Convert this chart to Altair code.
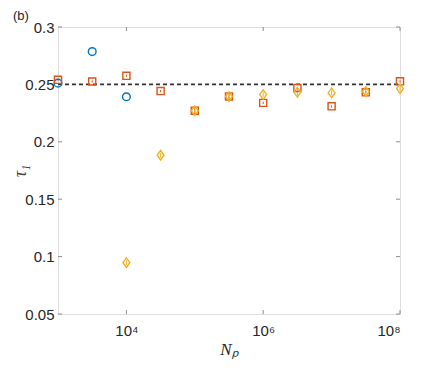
import altair as alt
import pandas as pd

# ---- data ----
circle_np = [1e3, 10**3.5, 1e4]
circle_tau = [0.2511, 0.2786, 0.2392]

square_np = [1e3, 10**3.5, 1e4, 10**4.5, 1e5, 10**5.5, 1e6, 10**6.5, 1e7, 10**7.5, 1e8]
square_tau = [0.2540, 0.2525, 0.2575, 0.2442, 0.2271, 0.2395, 0.2339, 0.2469, 0.2309, 0.2431, 0.2527]
square_err = [0.001, 0.001, 0.001, 0.001, 0.003, 0.003, 0.001, 0.001, 0.001, 0.001, 0.001]

diamond_np = [1e4, 10**4.5, 1e5, 10**5.5, 1e6, 10**6.5, 1e7, 10**7.5, 1e8]
diamond_tau = [0.0947, 0.1883, 0.2271, 0.2395, 0.2411, 0.2431, 0.2426, 0.2438, 0.2463]
diamond_err = [0.002, 0.002, 0.004, 0.004, 0.002, 0.003, 0.002, 0.003, 0.002]

ref_value = [0.25]
x_domain = [1e3, 1e8]
y_domain = [0.05, 0.3]
x_tick_values = [1e4, 1e6, 1e8]
x_tick_labels = ["10⁴", "10⁶", "10⁸"]
y_tick_values = [0.05, 0.1, 0.15, 0.2, 0.25, 0.3]
y_tick_labels = ["0.05", "0.1", "0.15", "0.2", "0.25", "0.3"]
panel_label = ["(b)"]

W, H = 342, 287

circles = pd.DataFrame({"Np": circle_np, "tau": circle_tau})
squares = pd.DataFrame({"Np": square_np, "tau": square_tau,
                        "lo": [t - e for t, e in zip(square_tau, square_err)],
                        "hi": [t + e for t, e in zip(square_tau, square_err)]})
diamonds = pd.DataFrame({"Np": diamond_np, "tau": diamond_tau,
                         "lo": [t - e for t, e in zip(diamond_tau, diamond_err)],
                         "hi": [t + e for t, e in zip(diamond_tau, diamond_err)]})

x_label_expr = " : ".join(
    [f"datum.value == {v} ? '{l}'" for v, l in zip(x_tick_values, x_tick_labels)] + ["''"]
)
y_label_expr = " : ".join(
    [f"abs(datum.value - {v}) < 1e-9 ? '{l}'" for v, l in zip(y_tick_values, y_tick_labels)] + ["''"]
)

xscale = alt.Scale(type="log", domain=x_domain, nice=False)
yscale = alt.Scale(domain=y_domain, nice=False, zero=False)

X = alt.X("Np:Q", scale=xscale,
          axis=alt.Axis(values=x_tick_values, labelExpr=x_label_expr, title="Nₚ",
                        grid=False, domain=False, ticks=False, labelPadding=9,
                        labelFontSize=15, labelColor="#262626", labelFont="Liberation Sans",
                        titleFont="Liberation Serif", titleFontStyle="italic",
                        titleFontWeight="normal", titleFontSize=17, titleColor="#262626",
                        titlePadding=3))
Y = alt.Y("tau:Q", scale=yscale,
          axis=alt.Axis(values=y_tick_values, labelExpr=y_label_expr, title="τ₁",
                        grid=False, domain=False, ticks=False, labelPadding=4,
                        labelFontSize=15, labelColor="#262626", labelFont="Liberation Sans",
                        titleFont="Liberation Serif", titleFontStyle="italic",
                        titleFontWeight="normal", titleFontSize=18, titleColor="#404040",
                        titleX=-38, titleY=H / 2, titleAlign="center",
                        titleBaseline="middle", titleAngle=270))

ref_df = pd.DataFrame({"y": ref_value})
ref_line = alt.Chart(ref_df).mark_rule(color="#333333", strokeDash=[4, 3], strokeWidth=1.6).encode(
    y=alt.Y("y:Q", scale=yscale), x=alt.value(0), x2=alt.value(W))

err_sq = alt.Chart(squares).mark_rule(color="#D95319", strokeWidth=1).encode(
    x=alt.X("Np:Q", scale=xscale), y=alt.Y("lo:Q", scale=yscale), y2="hi:Q")
err_di = alt.Chart(diamonds).mark_rule(color="#EDB120", strokeWidth=1).encode(
    x=alt.X("Np:Q", scale=xscale), y=alt.Y("lo:Q", scale=yscale), y2="hi:Q")

pts_c = alt.Chart(circles).mark_point(shape="circle", size=60, filled=False,
                                      color="#0072BD", strokeWidth=1.4, opacity=1).encode(x=X, y=Y)
pts_s = alt.Chart(squares).mark_point(shape="square", size=50, filled=False,
                                      color="#D95319", strokeWidth=1.4, opacity=1).encode(x=X, y=Y)
pts_d = alt.Chart(diamonds).mark_point(shape="M0,-1L0.72,0L0,1L-0.72,0Z", size=90, filled=False,
                                       color="#EDB120", strokeWidth=1.4, opacity=1).encode(x=X, y=Y)

# inward ticks
xt = pd.DataFrame({"Np": x_tick_values})
yt = pd.DataFrame({"tau": y_tick_values})
tick_color = "#8c8c8c"
xt_bot = alt.Chart(xt).mark_rule(color=tick_color, strokeWidth=1).encode(
    x=alt.X("Np:Q", scale=xscale), y=alt.value(H), y2=alt.value(H - 4))
xt_top = alt.Chart(xt).mark_rule(color=tick_color, strokeWidth=1).encode(
    x=alt.X("Np:Q", scale=xscale), y=alt.value(0), y2=alt.value(4))
yt_l = alt.Chart(yt).mark_rule(color=tick_color, strokeWidth=1).encode(
    y=alt.Y("tau:Q", scale=yscale), x=alt.value(0), x2=alt.value(4))
yt_r = alt.Chart(yt).mark_rule(color=tick_color, strokeWidth=1).encode(
    y=alt.Y("tau:Q", scale=yscale), x=alt.value(W), x2=alt.value(W - 4))

label_df = pd.DataFrame({"t": panel_label})
panel = alt.Chart(label_df).mark_text(align="left", baseline="alphabetic", fontSize=13,
                                      font="Liberation Sans", color="#262626").encode(
    text="t:N", x=alt.value(-45), y=alt.value(-7))

chart = alt.layer(
    xt_bot, xt_top, yt_l, yt_r, ref_line, err_sq, err_di, pts_c, pts_s, pts_d, panel
).properties(
    width=W, height=H,
    autosize=alt.AutoSizeParams(type="none"),
    padding={"left": 50, "top": 19, "right": 35, "bottom": 45},
).configure_view(stroke=tick_color, strokeWidth=1).configure(background="white")

chart.save("out.html", embed_options={"renderer": "svg", "actions": False})
